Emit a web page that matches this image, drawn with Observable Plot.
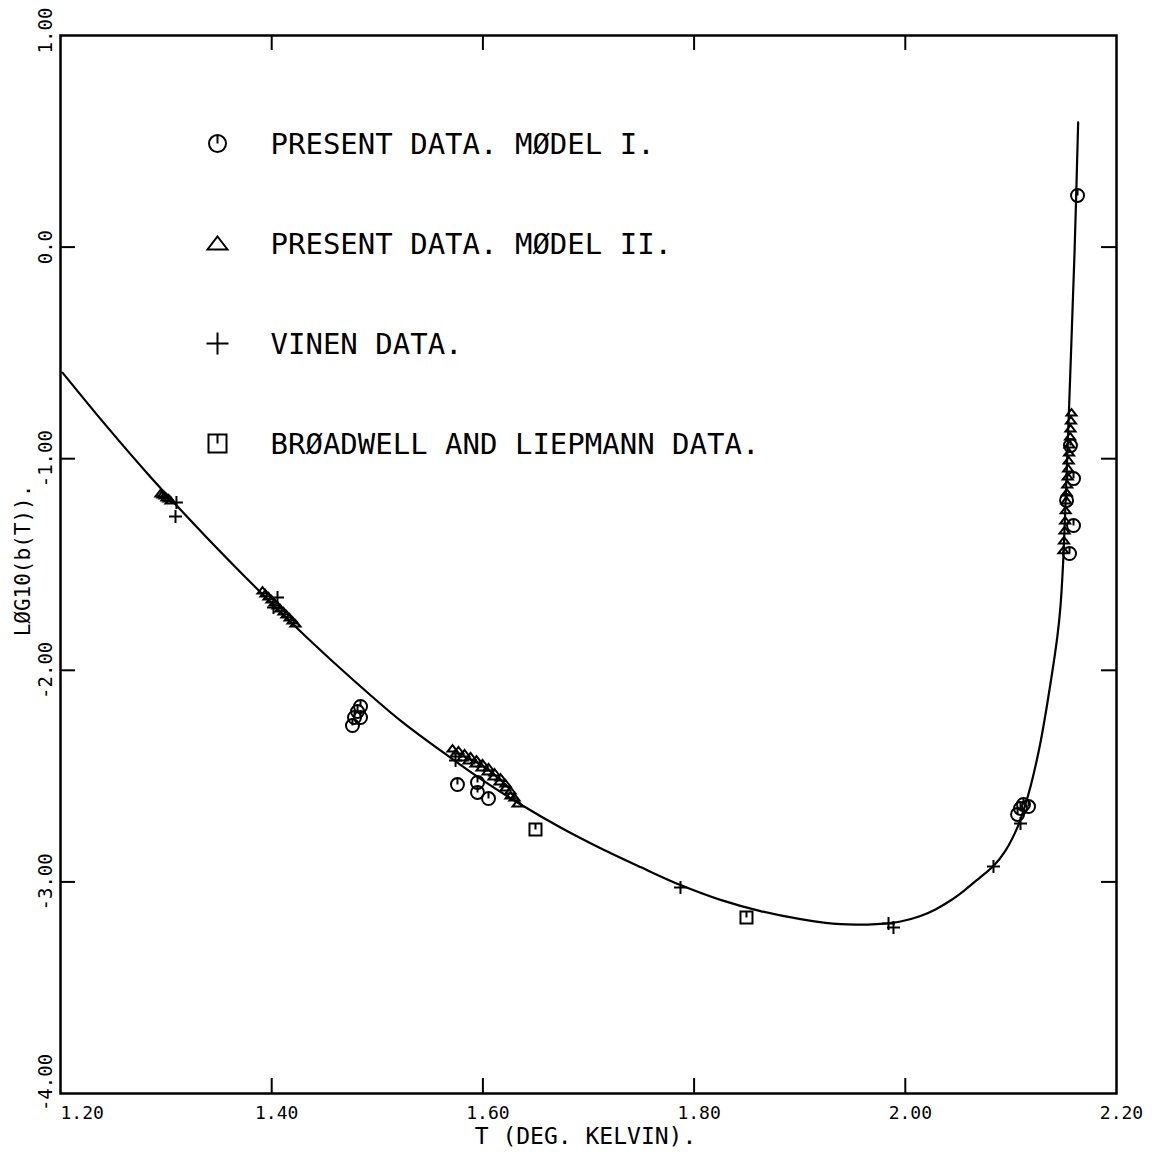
<!DOCTYPE html>
<html><head><meta charset="utf-8">
<script src="https://cdn.jsdelivr.net/npm/d3@7"></script>
<script src="https://cdn.jsdelivr.net/npm/@observablehq/plot@0.6"></script>
<style>body{margin:0;background:#fff} #chart{width:1155px;height:1154px}</style>
</head><body><div id="chart"></div>
<script>
// ---- data ----
const curveT    = [1.2019,1.2436,1.2852,1.3373,1.3894,1.4348,1.4775,1.5220,1.5693,1.5996,1.6375,1.6735,1.7114,1.7492,1.7871,1.8250,1.8629,1.9008,1.9386,1.9765,1.9955,2.0144,2.0286,2.0428,2.0570,2.0712,2.0835,2.0949,2.1063,2.1119,2.1186,2.1280,2.1375,2.1441,2.1470,2.1498,2.1527,2.1564,2.1602,2.1637];
const curveLogB = [-0.593,-0.846,-1.086,-1.366,-1.631,-1.852,-2.047,-2.238,-2.413,-2.519,-2.639,-2.743,-2.841,-2.930,-3.015,-3.085,-3.138,-3.176,-3.200,-3.198,-3.187,-3.161,-3.130,-3.088,-3.036,-2.977,-2.925,-2.852,-2.741,-2.663,-2.549,-2.341,-2.062,-1.836,-1.694,-1.457,-1.084,-0.574,-0.035,0.589];

const model1T    = [1.4765,1.4784,1.4813,1.4841,1.4841,1.5759,1.5949,1.5949,1.6053,2.1063,2.1091,2.1119,2.1167,2.1593,2.1593,2.1555,2.1564,2.1527,2.1631];
const model1LogB = [-2.261,-2.223,-2.195,-2.171,-2.223,-2.540,-2.530,-2.577,-2.606,-2.681,-2.653,-2.634,-2.644,-1.094,-1.316,-1.448,-0.938,-1.197,0.244];

const model2T = [
  1.2947,1.2966,1.2985,1.3004,1.3023,1.3042,
  1.3913,1.3941,1.3970,1.3998,1.4027,1.4055,1.4083,1.4112,1.4140,1.4169,1.4197,1.4225,
  1.5712,1.5769,1.5826,1.5883,1.5939,1.5996,1.6053,1.6110,1.6167,1.6214,1.6261,1.6299,1.6328,
  1.5741,1.5807,1.5864,1.5930,1.5987,1.6044,1.6100,1.6157,1.6214,1.6261,
  2.1574,2.1569,2.1564,2.1561,2.1556,2.1551,2.1547,2.1542,2.1538,2.1533,2.1529,2.1525,2.1519,2.1514,2.1508,2.1503,2.1497];
const model2LogB = [
  -1.164,-1.169,-1.174,-1.183,-1.188,-1.197,
  -1.623,-1.637,-1.651,-1.665,-1.680,-1.694,-1.708,-1.722,-1.736,-1.750,-1.765,-1.779,
  -2.370,-2.379,-2.393,-2.407,-2.422,-2.440,-2.459,-2.483,-2.507,-2.535,-2.568,-2.601,-2.630,
  -2.393,-2.412,-2.426,-2.440,-2.459,-2.478,-2.502,-2.525,-2.554,-2.592,
  -0.782,-0.819,-0.857,-0.895,-0.933,-0.971,-1.008,-1.046,-1.084,-1.122,-1.160,-1.197,-1.244,-1.292,-1.339,-1.386,-1.433];

const vinenT    = [1.3098,1.3089,1.4055,1.4017,1.5741,1.7871,1.9841,1.9888,2.0835,2.1091];
const vinenLogB = [-1.207,-1.273,-1.656,-1.703,-2.426,-3.026,-3.197,-3.216,-2.927,-2.724];

const blT    = [1.6498,1.8496];
const blLogB = [-2.752,-3.168];

const xTickValues  = [1.4,1.6,1.8,2.0];
const yTickValues  = [0,-1,-2,-3];
const xLabelValues = [1.2,1.4,1.6,1.8,2.0,2.2];
const xLabelTexts  = ["1.20","1.40","1.60","1.80","2.00","2.20"];
const yLabelValues = [1,0,-1,-2,-3,-4];
const yLabelTexts  = ["1.00","0.0","-1.00","-2.00","-3.00","-4.00"];
const xTitle = "T (DEG. KELVIN).";
const yTitle = "LØG10(b(T)).";
const legendLabels = ["PRESENT DATA. MØDEL I.","PRESENT DATA. MØDEL II.","VINEN DATA.","BRØADWELL AND LIEPMANN DATA."];

// ---- plotter-style symbols ----
const rad = s => Math.sqrt(s/Math.PI);
const circleTick = {draw(c,s){const r=rad(s);c.moveTo(r,0);c.arc(0,0,r,0,2*Math.PI);c.moveTo(0,-r);c.lineTo(0,0);}};
const triangle = {draw(c,s){const r=rad(s);c.moveTo(0,-0.7*r);c.lineTo(r,0.6*r);c.lineTo(-r,0.6*r);c.closePath();}};
const plus = {draw(c,s){const r=rad(s);c.moveTo(-r,0);c.lineTo(r,0);c.moveTo(0,-r);c.lineTo(0,r);}};
const squareTick = {draw(c,s){const r=rad(s);c.moveTo(-r,-r);c.lineTo(r,-r);c.lineTo(r,r);c.lineTo(-r,r);c.closePath();c.moveTo(0,-r);c.lineTo(0,0);}};
const legendSymbols = [circleTick, triangle, plus, squareTick];
const legendR = [8.5, 10, 11, 9];

const font = "DejaVu Sans Mono";
const W = 1155, H = 1154, mL = 60, mT = 35, mR = 39, mB = 61;
const fw = W - mL - mR, fh = H - mT - mB;
const tickLen = 15;
const pts = (xs, ys) => xs.map((x,i)=>({x, y: ys[i]}));
const sym = {fill:"none", stroke:"black", strokeWidth:2};
const yLab = {y:(d,i)=>yLabelValues[i], text:d=>d, frameAnchor:"left", textAnchor:"middle", lineAnchor:"middle", rotate:-90, dx:-15, fontSize:19, fontFamily:font};

const marks = [
  Plot.frame({stroke:"black", strokeWidth:2.5}),
  Plot.tickX(xTickValues, {x:d=>d, insetTop: fh - tickLen, strokeWidth:2}),
  Plot.tickX(xTickValues, {x:d=>d, insetBottom: fh - tickLen, strokeWidth:2}),
  Plot.tickY(yTickValues, {y:d=>d, insetRight: fw - tickLen, strokeWidth:2}),
  Plot.tickY(yTickValues, {y:d=>d, insetLeft: fw - tickLen, strokeWidth:2}),
  Plot.line(pts(curveT, curveLogB), {x:"x", y:"y", curve:"catmull-rom", stroke:"black", strokeWidth:2.2}),
  Plot.dot(pts(model2T, model2LogB), {x:"x", y:"y", symbol: triangle, r:5, ...sym}),
  Plot.dot(pts(model1T, model1LogB), {x:"x", y:"y", symbol: circleTick, r:6.5, ...sym}),
  Plot.dot(pts(vinenT, vinenLogB), {x:"x", y:"y", symbol: plus, r:6.5, ...sym}),
  Plot.dot(pts(blT, blLogB), {x:"x", y:"y", symbol: squareTick, r:6, ...sym}),
  // x tick labels
  Plot.text(xLabelTexts, {filter:(d,i)=>i===0, x:(d,i)=>xLabelValues[i], text:d=>d, frameAnchor:"bottom", textAnchor:"start", lineAnchor:"bottom", dy:25, fontSize:18, fontFamily:font}),
  Plot.text(xLabelTexts, {filter:(d,i)=>i>0, x:(d,i)=>xLabelValues[i], text:d=>d, frameAnchor:"bottom", textAnchor:"middle", lineAnchor:"bottom", dy:25, dx:5, fontSize:18, fontFamily:font}),
  // y tick labels (rotated)
  Plot.text(yLabelTexts, {...yLab, filter:(d,i)=>i===0, dy:-5}),
  Plot.text(yLabelTexts, {...yLab, filter:(d,i)=>i>0 && i<5}),
  Plot.text(yLabelTexts, {...yLab, filter:(d,i)=>i===5, dy:-11}),
  // axis titles
  Plot.text([xTitle], {frameAnchor:"bottom", textAnchor:"middle", lineAnchor:"bottom", dy:50, dx:-3, fontSize:23, fontFamily:font}),
  Plot.text([yTitle], {frameAnchor:"left", textAnchor:"middle", lineAnchor:"middle", rotate:-90, dx:-37, dy:-4, fontSize:21, fontFamily:font}),
];
legendLabels.forEach((label, i) => {
  marks.push(Plot.dot([label], {frameAnchor:"top-left", dx:157, dy:108 + 100*i, symbol: legendSymbols[i], r: legendR[i], ...sym}));
  marks.push(Plot.text([label], {frameAnchor:"top-left", dx:210, dy:118 + 100*i, textAnchor:"start", lineAnchor:"bottom", fontSize:29, fontFamily:font}));
});

const chart = Plot.plot({
  width: W, height: H,
  marginLeft: mL, marginTop: mT, marginRight: mR, marginBottom: mB,
  style: {background:"white", color:"black"},
  x: {domain:[1.2,2.2], axis:null},
  y: {domain:[-4,1], axis:null},
  marks
});
document.getElementById("chart").appendChild(chart);
</script>
</body></html>
